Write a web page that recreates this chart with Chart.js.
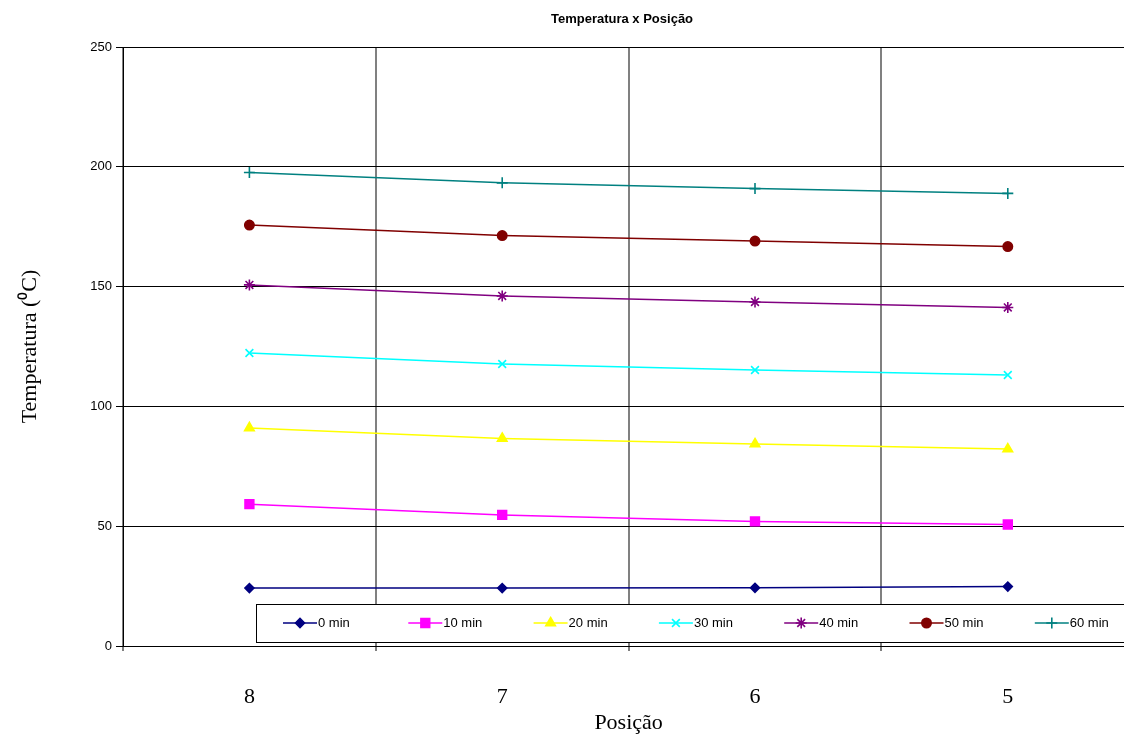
<!DOCTYPE html>
<html>
<head>
<meta charset="utf-8">
<script src="https://cdn.jsdelivr.net/npm/chart.js@4.4.1/dist/chart.umd.min.js"></script>
<style>
  html, body { margin: 0; padding: 0; background: #fff; overflow: hidden; width: 1124px; height: 738px; }
  #wrap { width: 1142px; height: 738px; }
</style>
</head>
<body>
<div id="wrap"><canvas id="chart" width="1142" height="738"></canvas></div>
<script>
// categories (position along the bar)
const positions = ['8', '7', '6', '5'];
const yTicks = [0, 50, 100, 150, 200, 250];

// temperatures (°C)
const min0  = [24.2, 24.2, 24.3, 24.8];
const min10 = [59.2, 54.7, 52.0, 50.7];
const min20 = [91.0, 86.6, 84.3, 82.2];
const min30 = [122.3, 117.7, 115.2, 113.1];
const min40 = [150.7, 146.1, 143.6, 141.3];
const min50 = [175.7, 171.3, 169.0, 166.7];
const min60 = [197.6, 193.3, 190.9, 188.9];

const seriesNames = ['0 min', '10 min', '20 min', '30 min', '40 min', '50 min', '60 min'];
const seriesData = [min0, min10, min20, min30, min40, min50, min60];
const seriesColors = ['#000080', '#FF00FF', '#FFFF00', '#00FFFF', '#800080', '#800000', '#008080'];
const seriesMarkers = ['rectRot', 'rect', 'triangle', 'crossRot', 'star', 'circle', 'cross'];
const markerSizes = [4.5, 6.2, 5.5, 5.5, 5.5, 4.7, 5.5];

const datasets = seriesNames.map((name, i) => ({
    label: name,
    data: seriesData[i],
    borderColor: seriesColors[i],
    backgroundColor: seriesColors[i],
    borderWidth: 1.5,
    pointStyle: seriesMarkers[i],
    pointRadius: markerSizes[i],
    pointBorderWidth: 1.6,
    pointBorderColor: seriesColors[i],
    pointBackgroundColor: seriesColors[i],
    tension: 0,
    fill: false
}));

// title centred over the plot
const titlePlugin = {
    id: 'titlePlugin',
    afterDraw(chart) {
        const ctx = chart.ctx;
        ctx.save();
        ctx.font = 'bold 13px "Liberation Sans", Arial, sans-serif';
        ctx.fillStyle = '#000';
        ctx.textAlign = 'center';
        ctx.textBaseline = 'middle';
        ctx.fillText('Temperatura x Posição', 622, 19);
        ctx.restore();
    }
};

// boxed legend sitting over the bottom of the plot, Excel style
const boxLegend = {
    id: 'boxLegend',
    afterDraw(chart) {
        const ctx = chart.ctx;
        const top = 604, bottom = 642, left = 256;
        ctx.save();
        ctx.fillStyle = '#fff';
        ctx.fillRect(left, top, chart.width - left, bottom - top);
        ctx.strokeStyle = '#000';
        ctx.lineWidth = 1;
        ctx.strokeRect(left + 0.5, top + 0.5, chart.width - left, bottom - top);
        const cy = (top + bottom) / 2;
        ctx.font = '13px "Liberation Sans", Arial, sans-serif';
        ctx.textBaseline = 'middle';
        ctx.textAlign = 'left';
        chart.data.datasets.forEach((ds, i) => {
            const cx = 300 + i * 125.3;
            ctx.strokeStyle = ds.borderColor;
            ctx.lineWidth = 1.5;
            ctx.beginPath();
            ctx.moveTo(cx - 17, cy);
            ctx.lineTo(cx + 17, cy);
            ctx.stroke();
            ctx.fillStyle = ds.borderColor;
            ctx.lineWidth = 1.6;
            if (Chart.helpers && Chart.helpers.drawPoint) {
                Chart.helpers.drawPoint(ctx, { pointStyle: ds.pointStyle, radius: ds.pointRadius, rotation: 0, borderWidth: 1.6 }, cx, cy);
            }
            ctx.fillStyle = '#000';
            ctx.fillText(ds.label, cx + 18, cy);
        });
        ctx.restore();
    }
};

new Chart(document.getElementById('chart').getContext('2d'), {
    type: 'line',
    data: { labels: positions, datasets: datasets },
    options: {
        responsive: false,
        animation: false,
        layout: { padding: { top: 47, right: 0, left: 0, bottom: 0 } },
        plugins: {
            legend: { display: false },
            title: { display: false },
            tooltip: { enabled: false }
        },
        scales: {
            x: {
                offset: true,
                grid: { offset: true, color: '#808080', lineWidth: 2, tickLength: 5, tickColor: '#000', tickWidth: 1 },
                border: { color: '#000', width: 1 },
                ticks: { color: '#000', padding: 33, font: { family: '"Liberation Serif", "Times New Roman", serif', size: 22 } },
                title: { display: true, text: 'Posição', color: '#000', padding: { top: 0, bottom: 2 }, font: { family: '"Liberation Serif", "Times New Roman", serif', size: 22 } },
                afterFit(scale) { scale.height = 92; }
            },
            y: {
                min: 0,
                max: 250,
                afterBuildTicks(scale) { scale.ticks = yTicks.map(v => ({ value: v })); },
                grid: { color: '#000', lineWidth: 1, tickLength: 7 },
                border: { color: '#000', width: 1 },
                ticks: { color: '#000', padding: 4, font: { family: '"Liberation Sans", Arial, sans-serif', size: 13 } },
                title: { display: true, text: 'Temperatura (⁰C)', color: '#000', padding: { top: 17, bottom: 0 }, font: { family: '"Liberation Serif", "Times New Roman", serif', size: 22 } },
                afterFit(scale) { scale.width = 123; }
            }
        }
    },
    plugins: [titlePlugin, boxLegend]
});
</script>
</body>
</html>
